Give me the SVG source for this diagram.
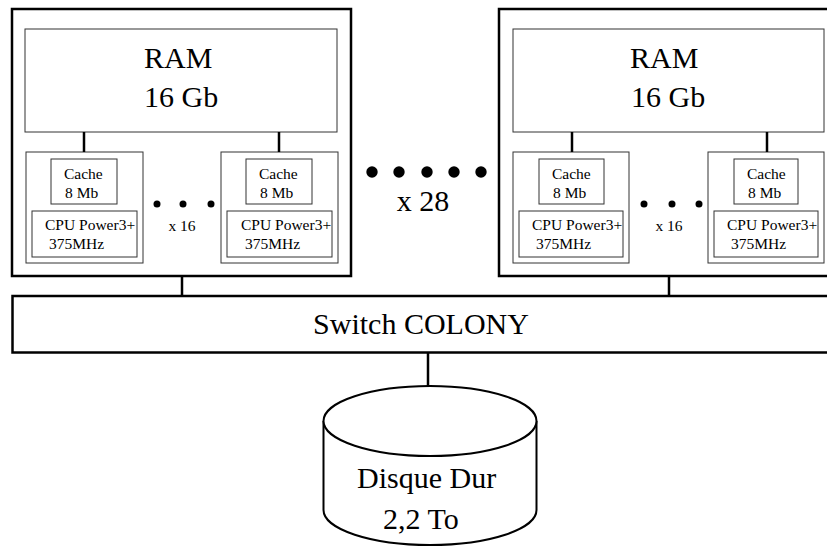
<svg xmlns="http://www.w3.org/2000/svg" width="827" height="548" viewBox="0 0 827 548">
<style>
text{font-family:"Liberation Serif","Times New Roman",serif;fill:#000}
.outer{fill:#fff;stroke:#000;stroke-width:2.5}
.thin{fill:#fff;stroke:#333;stroke-width:1}
.big{font-size:30px}
.small{font-size:15.5px}
.dot{fill:#000}
.conn{stroke:#000;stroke-width:2.5;fill:none}
</style>
<rect width="827" height="548" fill="#fff"/>
<g id="node1">
<rect class="outer" x="12" y="9" width="339" height="267"/>
<g id="ram1"><rect class="thin" x="25" y="29" width="312" height="103"/>
<text class="big" x="144" y="68">RAM</text><text class="big" x="144" y="107">16 Gb</text></g>
<g id="cpu1a"><rect class="thin" x="26" y="152" width="117" height="111"/>
<rect class="thin" x="51" y="159" width="66" height="45"/>
<text class="small" x="64" y="179">Cache</text><text class="small" x="65" y="198">8 Mb</text>
<rect class="thin" x="32" y="211" width="105" height="46"/>
<text class="small" x="45" y="230">CPU Power3+</text><text class="small" x="49" y="249">375MHz</text></g>
<g id="cpu1b"><rect class="thin" x="221" y="152" width="117" height="111"/>
<rect class="thin" x="246" y="159" width="66" height="45"/>
<text class="small" x="259" y="179">Cache</text><text class="small" x="260" y="198">8 Mb</text>
<rect class="thin" x="227" y="211" width="105" height="46"/>
<text class="small" x="241" y="230">CPU Power3+</text><text class="small" x="245" y="249">375MHz</text></g>
<circle class="dot" cx="157" cy="204" r="3.5"/><circle class="dot" cx="183" cy="204" r="3.5"/><circle class="dot" cx="211" cy="204" r="3.5"/>
<text class="small" x="182" y="231" text-anchor="middle">x 16</text>
</g>
<g id="node2">
<rect class="outer" x="499" y="9" width="345" height="267"/>
<g id="ram2"><rect class="thin" x="513" y="29" width="311" height="103"/>
<text class="big" x="630" y="68">RAM</text><text class="big" x="631" y="107">16 Gb</text></g>
<g id="cpu2a"><rect class="thin" x="513" y="152" width="116" height="111"/>
<rect class="thin" x="539" y="159" width="65" height="45"/>
<text class="small" x="552" y="179">Cache</text><text class="small" x="553" y="198">8 Mb</text>
<rect class="thin" x="519" y="211" width="104" height="46"/>
<text class="small" x="532" y="230">CPU Power3+</text><text class="small" x="536" y="249">375MHz</text></g>
<g id="cpu2b"><rect class="thin" x="708" y="152" width="116" height="111"/>
<rect class="thin" x="734" y="159" width="64" height="45"/>
<text class="small" x="747" y="179">Cache</text><text class="small" x="748" y="198">8 Mb</text>
<rect class="thin" x="714" y="211" width="104" height="46"/>
<text class="small" x="727" y="230">CPU Power3+</text><text class="small" x="731" y="249">375MHz</text></g>
<circle class="dot" cx="644" cy="204" r="3.5"/><circle class="dot" cx="672" cy="204" r="3.5"/><circle class="dot" cx="699" cy="204" r="3.5"/>
<text class="small" x="669" y="231" text-anchor="middle">x 16</text>
</g>
<g id="more">
<circle class="dot" cx="372" cy="172" r="5.7"/><circle class="dot" cx="399" cy="172" r="5.7"/><circle class="dot" cx="427" cy="172" r="5.7"/><circle class="dot" cx="454" cy="172" r="5.7"/><circle class="dot" cx="481" cy="172" r="5.7"/>
<text class="big" x="423" y="211" text-anchor="middle">x 28</text>
</g>
<g id="switch">
<rect class="outer" x="12.5" y="296" width="830" height="56.5"/>
<text class="big" x="421" y="334" text-anchor="middle">Switch COLONY</text>
</g>
<g id="disk">
<path d="M323.5,421 V510 A106.5,35 0 0 0 536.5,510 V421" fill="#fff" stroke="#000" stroke-width="2"/>
<ellipse cx="430" cy="421" rx="106.5" ry="35" fill="#fff" stroke="#000" stroke-width="2"/>
<text class="big" x="357" y="488">Disque Dur</text>
<text class="big" x="383" y="529">2,2 To</text>
</g>
<g id="connectors">
<line class="conn" x1="84" y1="132" x2="84" y2="152"/>
<line class="conn" x1="279" y1="132" x2="279" y2="152"/>
<line class="conn" x1="572" y1="132" x2="572" y2="152"/>
<line class="conn" x1="767" y1="132" x2="767" y2="152"/>
<line class="conn" x1="182" y1="276" x2="182" y2="296"/>
<line class="conn" x1="669" y1="276" x2="669" y2="296"/>
<line class="conn" x1="428" y1="353" x2="428" y2="386" stroke-width="2"/>
</g>
</svg>
